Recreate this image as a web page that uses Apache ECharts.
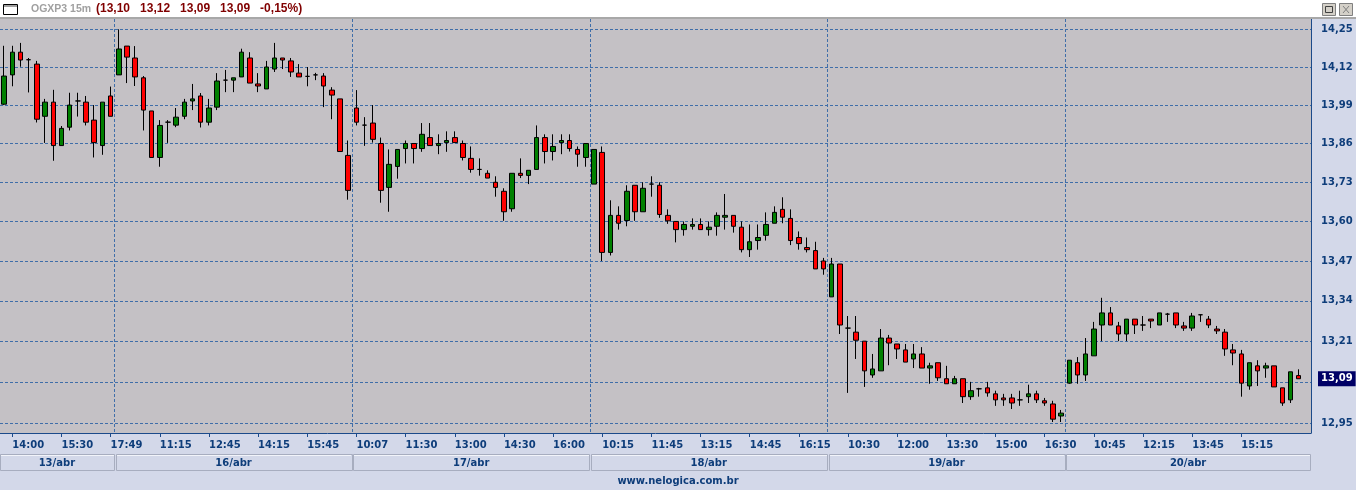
<!DOCTYPE html>
<html><head><meta charset="utf-8">
<script src="https://cdn.jsdelivr.net/npm/echarts@6/dist/echarts.min.js"></script>
<style>html,body{margin:0;padding:0;background:#D3D8E9;} #c{width:1356px;height:490px;}</style>
</head><body><div id="c"></div>
<script>
// ---- data (15-minute candles, OGXP3) ----
const opens = [13.993,14.093,14.171,14.145,14.130,13.952,14.000,13.853,13.915,14.004,14.000,13.939,13.853,14.021,
14.093,14.192,14.151,14.083,13.970,13.813,13.932,13.922,13.952,14.004,14.021,13.932,13.983,14.075,14.075,14.086,14.151,14.062,14.045,14.113,14.151,14.141,14.099,14.088,14.093,14.089,14.041,14.011,13.820,
13.980,13.922,13.929,13.860,13.713,13.783,13.843,13.860,13.843,13.880,13.853,13.863,13.880,13.860,13.810,13.773,13.760,13.730,13.700,13.642,13.760,13.753,13.773,13.880,13.833,13.863,13.870,13.840,13.813,
13.724,13.830,13.498,13.620,13.603,13.720,13.632,13.724,13.720,13.620,13.600,13.573,13.584,13.590,13.573,13.584,13.614,13.620,13.581,13.507,13.537,13.554,13.594,13.640,13.610,13.547,13.514,13.504,13.470,
13.353,13.460,13.252,13.239,13.210,13.102,13.115,13.220,13.201,13.182,13.153,13.169,13.124,13.141,13.090,13.074,13.090,13.033,13.058,13.061,13.042,13.029,13.029,13.023,13.033,13.042,13.020,13.010,12.972,
13.076,13.141,13.102,13.163,13.262,13.301,13.259,13.233,13.281,13.262,13.281,13.262,13.297,13.301,13.259,13.252,13.295,13.281,13.249,13.239,13.182,13.169,13.067,13.131,13.124,13.131,13.061,13.023,13.10];
const closes = [14.089,14.171,14.144,14.145,13.942,14.000,13.853,13.911,13.990,14.004,13.932,13.863,14.000,13.952,
14.182,14.154,14.086,13.973,13.813,13.921,13.932,13.949,14.000,14.011,13.932,13.980,14.072,14.075,14.083,14.171,14.065,14.055,14.120,14.151,14.144,14.103,14.086,14.088,14.093,14.055,14.024,13.833,13.703,
13.932,13.922,13.874,13.703,13.790,13.840,13.860,13.843,13.891,13.853,13.860,13.870,13.863,13.813,13.773,13.773,13.744,13.713,13.632,13.760,13.753,13.770,13.880,13.833,13.850,13.870,13.843,13.824,13.860,
13.840,13.498,13.620,13.594,13.700,13.632,13.710,13.724,13.623,13.602,13.573,13.590,13.590,13.573,13.581,13.620,13.620,13.584,13.507,13.533,13.547,13.590,13.630,13.614,13.537,13.527,13.507,13.444,13.444,
13.460,13.262,13.252,13.213,13.115,13.121,13.220,13.204,13.185,13.143,13.169,13.124,13.131,13.093,13.074,13.090,13.033,13.052,13.058,13.045,13.023,13.023,13.013,13.023,13.042,13.023,13.013,12.962,12.981,
13.149,13.102,13.169,13.249,13.301,13.262,13.233,13.281,13.262,13.262,13.275,13.301,13.297,13.262,13.252,13.291,13.295,13.262,13.243,13.185,13.172,13.076,13.141,13.115,13.131,13.064,13.013,13.112,13.09];
const lows = [13.990,14.054,14.121,14.033,13.931,13.862,13.802,13.853,13.904,13.951,13.921,13.813,13.822,13.952,
14.093,14.065,14.055,13.904,13.813,13.782,13.862,13.915,13.942,13.973,13.914,13.921,13.973,14.034,14.034,14.086,14.065,14.034,14.045,14.103,14.113,14.086,14.086,14.054,14.075,13.983,13.942,13.833,13.672,
13.921,13.852,13.863,13.662,13.632,13.742,13.793,13.793,13.832,13.853,13.824,13.832,13.863,13.803,13.762,13.752,13.744,13.682,13.602,13.632,13.744,13.724,13.773,13.793,13.803,13.824,13.833,13.782,13.782,
13.724,13.470,13.488,13.573,13.584,13.602,13.632,13.682,13.612,13.592,13.531,13.553,13.573,13.573,13.553,13.553,13.573,13.563,13.498,13.483,13.507,13.537,13.594,13.594,13.522,13.507,13.498,13.444,13.425,
13.353,13.233,13.045,13.153,13.064,13.093,13.115,13.133,13.153,13.143,13.124,13.124,13.074,13.083,13.074,13.074,13.013,13.023,13.033,13.033,13.004,13.004,12.994,13.004,13.013,13.013,13.004,12.953,12.953,
13.074,13.074,13.083,13.163,13.210,13.262,13.210,13.210,13.233,13.243,13.252,13.262,13.272,13.252,13.243,13.243,13.272,13.252,13.233,13.163,13.133,13.033,13.055,13.067,13.093,13.064,13.004,13.013,13.09];
const highs = [14.193,14.193,14.203,14.151,14.141,14.011,14.042,13.919,14.032,14.032,14.021,13.990,14.000,14.053,
14.250,14.192,14.192,14.089,13.970,13.939,13.939,13.980,14.011,14.062,14.031,14.011,14.099,14.110,14.083,14.183,14.171,14.099,14.141,14.203,14.151,14.151,14.130,14.120,14.100,14.099,14.051,14.011,13.870,
14.041,13.949,13.990,13.880,13.840,13.840,13.870,13.860,13.929,13.929,13.891,13.901,13.901,13.870,13.850,13.810,13.770,13.750,13.710,13.760,13.810,13.770,13.921,13.891,13.891,13.891,13.891,13.850,13.860,
13.840,13.850,13.670,13.650,13.720,13.720,13.730,13.750,13.730,13.640,13.600,13.600,13.610,13.610,13.600,13.630,13.691,13.620,13.600,13.590,13.590,13.630,13.650,13.680,13.640,13.567,13.547,13.533,13.480,
13.480,13.460,13.291,13.291,13.210,13.169,13.249,13.230,13.201,13.201,13.201,13.191,13.141,13.141,13.131,13.099,13.090,13.080,13.061,13.080,13.052,13.042,13.042,13.052,13.071,13.052,13.029,13.020,12.991,
13.149,13.159,13.220,13.272,13.350,13.320,13.272,13.281,13.281,13.291,13.281,13.301,13.301,13.301,13.272,13.301,13.295,13.291,13.259,13.249,13.201,13.182,13.141,13.149,13.141,13.131,13.061,13.112,13.12];
const timeLabels = ['14:00','15:30','17:49','11:15','12:45','14:15','15:45','10:07','11:30','13:00','14:30','16:00','10:15','11:45','13:15','14:45','16:15','10:30','12:00','13:30','15:00','16:30','10:45','12:15','13:45','15:15'];
const dayLabels = ['13/abr','16/abr','17/abr','18/abr','19/abr','20/abr'];
const dayStarts = [0,14,43,72,101,130];
const yTicks = [12.95,13.08,13.21,13.34,13.47,13.60,13.73,13.86,13.99,14.12,14.25];
const headerSymbol = 'OGXP3 15m';
const headerChange = '-0,15%';
const lastPrice = 13.09;

// ---- build ----
const SLOTS = 160;
const cats = [];
for (let i = 0; i < SLOTS; i++) cats.push(String(i));
const candles = opens.map((o, i) => [o, closes[i], lows[i], highs[i]]);
const fmt = v => v.toFixed(2).replace('.', ',');
const labelIdx = i => i >= 1 && (i - 1) % 6 === 0 && (i - 1) / 6 < timeLabels.length;
const BLUE = '#0E3D7A';
const GRIDC = '#3F6EA9';
const FONT = 'DejaVu Sans';

const chart = echarts.init(document.getElementById('c'), null, {renderer: 'canvas'});
chart.setOption({
  backgroundColor: '#D3D8E9',
  animation: false,
  grid: {left: 0, top: 19, width: 1311, height: 414, show: true, backgroundColor: '#C4C1C5', borderWidth: 0,
    containLabel: false, outerBoundsMode: 'none'},
  xAxis: {
    type: 'category', data: cats, boundaryGap: true,
    axisLine: {show: true, lineStyle: {color: '#1B4A8A', width: 1}},
    axisTick: {show: true, interval: (i) => labelIdx(i), alignWithLabel: true, length: 4, lineStyle: {color: '#1B4A8A'}},
    axisLabel: {interval: (i) => labelIdx(i), formatter: (v, i) => timeLabels[(i - 1) / 6], align: 'left',
      color: BLUE, fontFamily: FONT, fontWeight: 'bold', fontSize: 10, margin: 7},
    splitLine: {show: true, interval: (i) => i > 0 && dayStarts.indexOf(i) >= 0,
      lineStyle: {color: GRIDC, type: [3, 2], width: 1}}
  },
  yAxis: {
    type: 'log', logBase: 10, position: 'right', min: 12.9185, max: 14.2857, scale: true,
    axisLine: {show: true, lineStyle: {color: '#1B4A8A'}},
    axisTick: {show: false, customValues: yTicks},
    axisLabel: {customValues: yTicks, formatter: v => fmt(v), color: BLUE, fontFamily: FONT,
      fontWeight: 'bold', fontSize: 10, margin: 10},
    splitLine: {show: true, lineStyle: {color: GRIDC, type: [3, 2], width: 1}}
  },
  series: [{
    type: 'candlestick', data: candles, barWidth: 5,
    itemStyle: {color: '#008000', color0: '#FF0000', borderColor: '#000', borderColor0: '#000', borderColorDoji: '#000', borderWidth: 1},
    markLine: {
      silent: true, symbol: 'none', animation: false,
      lineStyle: {color: 'rgba(0,0,0,0)', width: 0, type: 'solid'},
      label: {show: true, position: 'end', distance: 7, formatter: () => fmt(lastPrice),
        color: '#FFFFFF', backgroundColor: '#000066', fontFamily: FONT, fontWeight: 'bold', fontSize: 10,
        padding: [3, 3, 2, 3]},
      data: [{yAxis: lastPrice}]
    }
  }]
});

// ---- decorations derived from the axis scale ----
const px = i => chart.convertToPixel({xAxisIndex: 0}, i);
const slot = px(1) - px(0);
const g = [];
// title bar
g.push({type: 'rect', shape: {x: 0, y: 0, width: 1356, height: 17}, style: {fill: '#FFFFFF'}, z: 10});
g.push({type: 'rect', shape: {x: 0, y: 17, width: 1356, height: 2}, style: {fill: '#A8A8A8'}, z: 10});
g.push({type: 'rect', shape: {x: 3.5, y: 4.5, width: 14, height: 10}, style: {fill: '#fff', stroke: '#000', lineWidth: 1}, z: 11});
g.push({type: 'rect', shape: {x: 4, y: 5, width: 13, height: 2}, style: {fill: '#A0A0A0'}, z: 12});
g.push({type: 'text', x: 31, y: 9, style: {text: headerSymbol, fill: '#A0A0A0', font: 'bold 10.5px "Liberation Sans", Arial', verticalAlign: 'middle'}, z: 11});
const last = opens.length - 1;
const hdr = '(' + [opens[last], highs[last], lows[last], closes[last]].map(fmt).join('   ') + '   ' + headerChange + ')';
g.push({type: 'text', x: 96, y: 9, style: {text: hdr, fill: '#800000', font: 'bold 12px "Liberation Sans", Arial', verticalAlign: 'middle'}, z: 11});
// window buttons
[1322, 1339].forEach((bx, k) => {
  g.push({type: 'rect', shape: {x: bx + 0.5, y: 3.5, width: 13, height: 12}, style: {fill: '#D4D0C8', stroke: '#808080', lineWidth: 1}, z: 11});
  if (k === 0) g.push({type: 'rect', shape: {x: bx + 3.5, y: 6.5, width: 7, height: 6}, style: {fill: 'none', stroke: '#404040', lineWidth: 1}, z: 12});
  else {
    g.push({type: 'line', shape: {x1: bx + 4, y1: 6, x2: bx + 10, y2: 13}, style: {stroke: '#808080', lineWidth: 1}, z: 12});
    g.push({type: 'line', shape: {x1: bx + 10, y1: 6, x2: bx + 4, y2: 13}, style: {stroke: '#808080', lineWidth: 1}, z: 12});
  }
});
// day boxes
dayStarts.forEach((s, k) => {
  const e = k + 1 < dayStarts.length ? dayStarts[k + 1] : SLOTS;
  let x0 = px(s) - slot / 2 + (k > 0 ? 1 : 0);
  let x1 = Math.min(px(e - 1) + slot / 2, 1311) - 1;
  g.push({type: 'rect', shape: {x: Math.round(x0) + 0.5, y: 454.5, width: Math.round(x1 - x0), height: 16},
    style: {fill: '#D3D8E9', stroke: '#A7ADBF', lineWidth: 1}, z: 5});
  g.push({type: 'line', shape: {x1: Math.round(x0) + 1, y1: 455.5, x2: Math.round(x1), y2: 455.5}, style: {stroke: '#F2F4FA', lineWidth: 1}, z: 6});
  g.push({type: 'text', x: (x0 + x1) / 2, y: 463, style: {text: dayLabels[k], fill: BLUE, font: 'bold 10px "DejaVu Sans"', align: 'center', verticalAlign: 'middle'}, z: 7});
});
g.push({type: 'text', x: 678, y: 481, style: {text: 'www.nelogica.com.br', fill: BLUE, font: 'bold 10px "DejaVu Sans"', align: 'center', verticalAlign: 'middle'}, z: 7});
chart.setOption({graphic: g});
</script></body></html>
